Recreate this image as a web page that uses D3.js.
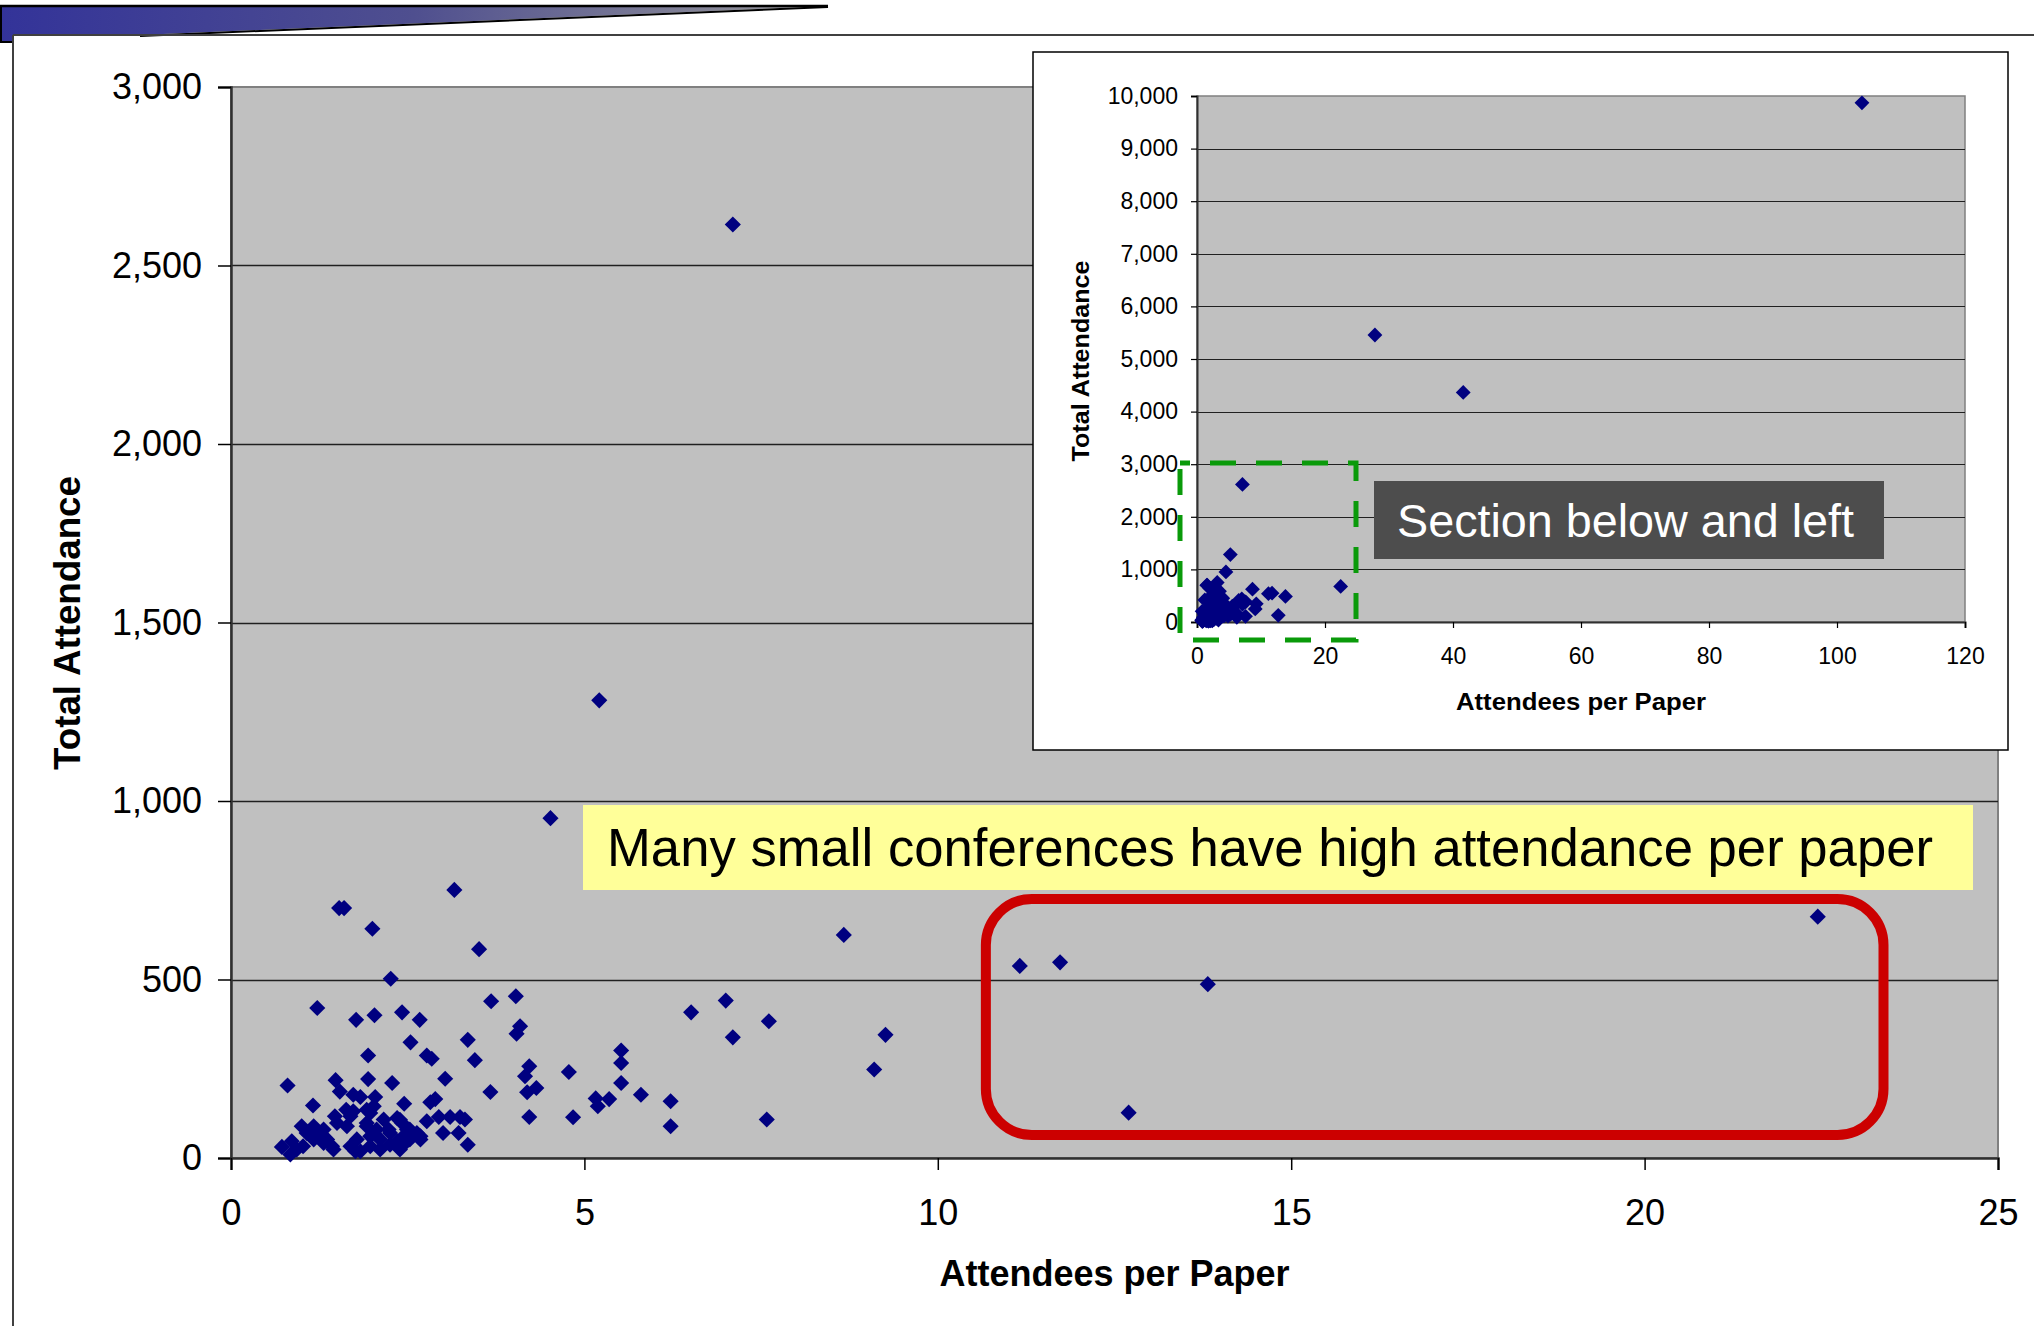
<!DOCTYPE html>
<html><head><meta charset="utf-8">
<script src="https://cdn.jsdelivr.net/npm/d3@7"></script>
<style>html,body{margin:0;padding:0;background:#fff;} svg{display:block;font-family:"Liberation Sans",Arial,sans-serif;}</style>
</head><body>
<svg id="chart" width="2034" height="1326"></svg>
<script>
// ---------- data ----------
const attendeesPerPaper = [
7.10, 5.21, 4.52, 3.16, 1.53, 1.60, 2.00, 8.67, 3.51, 11.16, 11.73, 13.82, 12.70, 22.45,
2.26, 1.22, 3.68, 4.03, 1.77, 2.03, 2.42, 2.67, 4.09, 4.04, 3.35, 2.54, 5.52, 5.52, 5.52,
1.94, 2.77, 2.84, 3.45, 4.22, 4.16, 4.78, 6.51, 7.00, 7.10, 7.61, 9.26, 9.10, 6.22, 6.22, 7.58,
0.80, 1.48, 1.94, 2.28, 3.03, 4.32, 4.19, 5.16, 5.19, 5.35, 5.80, 3.67, 4.22, 4.84, 1.16, 2.45,
2.04, 2.02, 2.89, 2.82, 1.54, 1.73, 1.83, 1.63, 1.73, 1.92, 2.77, 2.94, 3.10, 3.24, 3.31, 3.00, 3.22, 3.35,
1.00, 1.17, 1.31, 1.50, 1.64, 0.72, 0.86, 0.84, 1.02, 1.17, 1.31, 1.45, 1.69, 1.78, 1.83, 1.92, 1.97, 2.06,
2.16, 2.23, 2.35, 2.42, 2.49, 2.11, 2.35, 2.44, 2.53, 2.63, 2.68, 1.97, 2.11, 2.25, 2.39, 2.44,
1.36, 1.21, 0.93, 1.47, 1.69, 1.97, 1.92, 2.39, 2.53, 2.68, 2.25, 1.07, 1.43, 1.76,
27.8, 41.6, 103.9
];
const totalAttendance = [
2615, 1282, 952, 751, 700, 700, 642, 625, 585, 538, 548, 487, 127, 676,
502, 420, 439, 453, 387, 400, 408, 387, 369, 348, 331, 324, 301, 266, 210,
287, 287, 278, 274, 257, 229, 241, 408, 441, 338, 383, 345, 248, 159, 89, 108,
203, 218, 221, 210, 222, 196, 184, 167, 145, 165, 177, 185, 115, 114, 147, 152,
171, 145, 165, 156, 186, 177, 171, 135, 131, 135, 103, 115, 115, 115, 108, 70, 70, 37,
89, 89, 80, 98, 89, 31, 47, 10, 33, 52, 42, 24, 33, 52, 19, 89, 61, 80,
108, 80, 112, 98, 80, 52, 47, 61, 52, 70, 52, 33, 24, 37, 24, 37,
52, 61, 24, 117, 117, 126, 98, 107, 80, 61, 70, 70, 33, 19,
5457, 4365, 9870
];
const mainXTicks = [0, 5, 10, 15, 20, 25];
const mainYTicks = [0, 500, 1000, 1500, 2000, 2500, 3000];
const insetXTicks = [0, 20, 40, 60, 80, 100, 120];
const insetYTicks = [0, 1000, 2000, 3000, 4000, 5000, 6000, 7000, 8000, 9000, 10000];
const xTitle = "Attendees per Paper";
const yTitle = "Total Attendance";
const annotationText = "Many small conferences have high attendance per paper";
const insetLabelText = "Section below and left";
const zoomWindow = {x: [0, 25], y: [0, 3000]};
const highlightRange = [10.68, 23.38];

const points = attendeesPerPaper.map((x, i) => ({x, y: totalAttendance[i]}));

const svg = d3.select("#chart");
const fmt = d3.format(",");
const defs = svg.append("defs");

// ---------- slide decoration ----------
const grad = defs.append("linearGradient").attr("id", "bannerGrad").attr("x1", 0).attr("x2", 1).attr("y1", 0).attr("y2", 0);
grad.append("stop").attr("offset", 0).attr("stop-color", "#333399");
grad.append("stop").attr("offset", 0.5).attr("stop-color", "#4f4f8f");
grad.append("stop").attr("offset", 1).attr("stop-color", "#9a9a9a");
svg.append("path").attr("d", "M0,6 L828,6 L140,35 L13,35 L13,42 L0,42 Z").attr("fill", "url(#bannerGrad)");
svg.append("path").attr("d", "M140,36 L828,7").attr("stroke", "#000").attr("stroke-width", 2).attr("fill", "none");
svg.append("path").attr("d", "M0,6 L828,6").attr("stroke", "#000").attr("stroke-width", 2.5);
svg.append("path").attr("d", "M1,6 L1,42 L13,42").attr("stroke", "#000").attr("stroke-width", 2).attr("fill", "none");
svg.append("path").attr("d", "M13,35 L2034,35 M13,35 L13,1326").attr("stroke", "#404040").attr("stroke-width", 2).attr("fill", "none");

const diamond = (size) => d3.symbol().type(d3.symbolSquare).size(size);

// ---------- main chart ----------
const M = {l: 231, r: 1998, t: 87, b: 1158};
const x = d3.scaleLinear().domain(zoomWindow.x).range([M.l, M.r]);
const y = d3.scaleLinear().domain(zoomWindow.y).range([M.b, M.t]);

svg.append("rect").attr("x", M.l).attr("y", M.t).attr("width", M.r - M.l).attr("height", M.b - M.t)
  .attr("fill", "#c0c0c0").attr("stroke", "#808080").attr("stroke-width", 2);

svg.append("g").selectAll("line").data(mainYTicks.filter(d => d > 0 && d < 3000)).join("line")
  .attr("x1", M.l).attr("x2", M.r).attr("y1", d => Math.round(y(d)) + 0.5).attr("y2", d => Math.round(y(d)) + 0.5)
  .attr("stroke", "#202020").attr("stroke-width", 1.3);

const yAxis = svg.append("g").attr("transform", `translate(${M.l},0)`)
  .call(d3.axisLeft(y).tickValues(mainYTicks).tickFormat(fmt).tickSize(13).tickPadding(16));
const xAxis = svg.append("g").attr("transform", `translate(0,${M.b})`)
  .call(d3.axisBottom(x).tickValues(mainXTicks).tickFormat(fmt).tickSize(12).tickPadding(29));
[yAxis, xAxis].forEach(g => {
  g.selectAll("text").attr("font-size", 36).attr("fill", "#000").attr("font-family", "Liberation Sans, Arial, sans-serif");
  g.selectAll(".tick line").attr("stroke", "#000").attr("stroke-width", 1.5);
  g.select(".domain").attr("stroke", "#303030").attr("stroke-width", 2.5);
});

svg.append("g").selectAll("path").data(points.filter(p => p.x <= zoomWindow.x[1] && p.y <= zoomWindow.y[1])).join("path")
  .attr("d", diamond(130)).attr("fill", "#000080")
  .attr("transform", d => `translate(${x(d.x)},${y(d.y)}) rotate(45)`);

svg.append("text").attr("transform", "translate(80,623) rotate(-90)").attr("text-anchor", "middle")
  .attr("font-size", 36).attr("font-weight", "bold").attr("textLength", 294).attr("lengthAdjust", "spacingAndGlyphs").text(yTitle);
svg.append("text").attr("x", (M.l + M.r) / 2).attr("y", 1286).attr("text-anchor", "middle")
  .attr("font-size", 36).attr("font-weight", "bold").text(xTitle);

// annotation
svg.append("rect").attr("x", 583).attr("y", 805).attr("width", 1390).attr("height", 85).attr("fill", "#ffff99");
svg.append("text").attr("x", 607).attr("y", 866).attr("font-size", 53).attr("fill", "#000")
  .attr("textLength", 1326).attr("lengthAdjust", "spacingAndGlyphs").text(annotationText);

// highlight box
svg.append("rect").attr("x", x(highlightRange[0])).attr("y", 899)
  .attr("width", x(highlightRange[1]) - x(highlightRange[0])).attr("height", 236)
  .attr("rx", 46).attr("ry", 46).attr("fill", "none").attr("stroke", "#cc0000").attr("stroke-width", 10);

// ---------- inset chart ----------
svg.append("rect").attr("x", 1033).attr("y", 52).attr("width", 975).attr("height", 698)
  .attr("fill", "#fff").attr("stroke", "#000").attr("stroke-width", 1.5);
const I = {l: 1197, r: 1965, t: 96, b: 622};
const xi = d3.scaleLinear().domain([0, 120]).range([I.l, I.r]);
const yi = d3.scaleLinear().domain([0, 10000]).range([I.b, I.t]);
svg.append("rect").attr("x", I.l).attr("y", I.t).attr("width", I.r - I.l).attr("height", I.b - I.t)
  .attr("fill", "#c0c0c0").attr("stroke", "#808080").attr("stroke-width", 1.5);
svg.append("g").selectAll("line").data(insetYTicks.filter(d => d > 0 && d < 10000)).join("line")
  .attr("x1", I.l).attr("x2", I.r).attr("y1", d => Math.round(yi(d)) + 0.5).attr("y2", d => Math.round(yi(d)) + 0.5)
  .attr("stroke", "#202020").attr("stroke-width", 1.2);
const yiAxis = svg.append("g").attr("transform", `translate(${I.l},0)`)
  .call(d3.axisLeft(yi).tickValues(insetYTicks).tickFormat(fmt).tickSize(6).tickPadding(13));
const xiAxis = svg.append("g").attr("transform", `translate(0,${I.b})`)
  .call(d3.axisBottom(xi).tickValues(insetXTicks).tickFormat(fmt).tickSize(6).tickPadding(20));
[yiAxis, xiAxis].forEach(g => {
  g.selectAll("text").attr("font-size", 23).attr("fill", "#000").attr("font-family", "Liberation Sans, Arial, sans-serif");
  g.selectAll(".tick line").attr("stroke", "#000").attr("stroke-width", 1.2);
  g.select(".domain").attr("stroke", "#303030").attr("stroke-width", 2);
});
svg.append("g").selectAll("path").data(points).join("path")
  .attr("d", diamond(110)).attr("fill", "#000080")
  .attr("transform", d => `translate(${xi(d.x)},${yi(d.y)}) rotate(45)`);
svg.append("text").attr("transform", "translate(1089,361) rotate(-90)").attr("text-anchor", "middle")
  .attr("font-size", 24).attr("font-weight", "bold").attr("textLength", 201).attr("lengthAdjust", "spacingAndGlyphs").text(yTitle);
svg.append("text").attr("x", 1581).attr("y", 710).attr("text-anchor", "middle")
  .attr("font-size", 24).attr("font-weight", "bold").attr("textLength", 250).attr("lengthAdjust", "spacingAndGlyphs").text(xTitle);

// green dashed window marking the main chart's section
svg.append("rect").attr("x", 1180).attr("y", 463).attr("width", 176).attr("height", 177)
  .attr("fill", "none").attr("stroke", "#0a9a0a").attr("stroke-width", 5)
  .attr("stroke-dasharray", "26,20").attr("stroke-dashoffset", 16);

svg.append("rect").attr("x", 1374).attr("y", 481).attr("width", 510).attr("height", 78).attr("fill", "#4d4d4d");
svg.append("text").attr("x", 1397).attr("y", 537).attr("font-size", 47).attr("fill", "#fff")
  .attr("textLength", 457).attr("lengthAdjust", "spacingAndGlyphs").text(insetLabelText);
</script>
</body></html>
